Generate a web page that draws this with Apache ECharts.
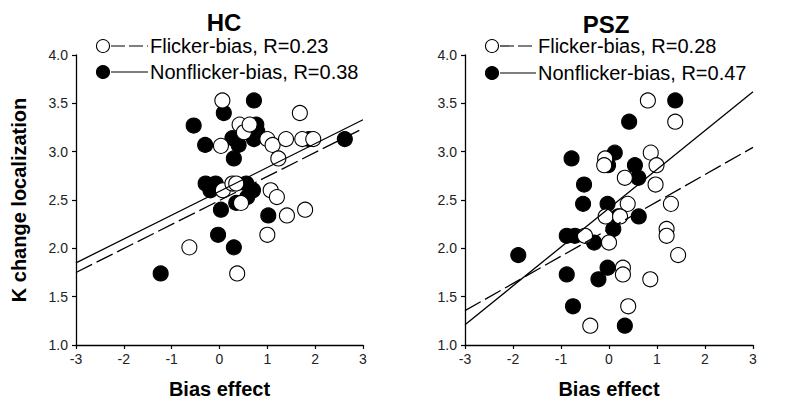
<!DOCTYPE html>
<html><head><meta charset="utf-8">
<script src="https://cdn.jsdelivr.net/npm/echarts@6/dist/echarts.min.js"></script>
<style>html,body{margin:0;padding:0;background:#fff}#c{width:795px;height:409px}</style>
</head><body><div id="c"></div>
<script>
// ---- data ----
var panelTitles = ['HC', 'PSZ'];
var xTicks = [-3, -2, -1, 0, 1, 2, 3];
var yTicks = [1.0, 1.5, 2.0, 2.5, 3.0, 3.5, 4.0];

var hcFlicker = [
  [0.06,3.53],[1.68,3.40],[0.42,3.28],[0.51,3.20],[0.63,3.28],[0.03,3.06],[1.00,3.13],[1.11,3.07],
  [1.39,3.13],[1.23,2.93],[1.73,3.13],[1.96,3.13],[0.07,2.60],[0.27,2.67],[0.35,2.67],[0.45,2.47],
  [1.07,2.60],[1.20,2.53],[1.79,2.40],[1.41,2.34],[1.00,2.14],[-0.63,2.01],[0.37,1.74]
];
var hcNonflicker = [
  [0.72,3.53],[0.09,3.40],[-0.54,3.27],[0.77,3.28],[0.79,3.21],[0.72,3.13],[0.27,3.14],[0.40,3.07],
  [-0.30,3.07],[0.30,2.93],[1.87,3.13],[2.62,3.13],[-0.29,2.67],[-0.08,2.67],[-0.19,2.60],[0.56,2.67],
  [0.70,2.60],[0.58,2.53],[0.35,2.47],[0.03,2.40],[1.02,2.34],[-0.03,2.14],[0.30,2.01],[-1.23,1.74]
];
var pszFlicker = [
  [0.81,3.53],[1.38,3.31],[0.87,2.99],[-0.08,2.93],[-0.10,2.86],[0.99,2.86],[0.33,2.73],[0.97,2.66],
  [0.39,2.46],[1.29,2.46],[-0.07,2.33],[0.23,2.33],[-0.50,2.13],[0.00,2.06],[1.20,2.20],[1.20,2.13],
  [1.44,1.93],[0.29,1.80],[0.29,1.73],[0.86,1.68],[0.40,1.40],[-0.39,1.20]
];
var pszNonflicker = [
  [1.38,3.53],[0.42,3.31],[0.12,2.99],[-0.78,2.93],[-0.02,2.86],[0.54,2.86],[0.61,2.73],[-0.52,2.66],
  [-0.54,2.46],[-0.03,2.46],[0.19,2.33],[0.62,2.33],[0.09,2.20],[-0.88,2.13],[-0.71,2.13],[-0.31,2.06],
  [-1.89,1.93],[-0.88,1.73],[-0.03,1.80],[-0.22,1.68],[-0.75,1.40],[0.33,1.20]
];
// regression line end points (x, y)
var hcFlickerFit = [[-3,1.75],[3,3.24]];
var hcNonflickerFit = [[-3,1.85],[3,3.33]];
var pszFlickerFit = [[-3,1.355],[3,3.045]];
var pszNonflickerFit = [[-3,1.21],[3,3.62]];
var legendLabels = [['Flicker-bias, R=0.23','Nonflicker-bias, R=0.38'],['Flicker-bias, R=0.28','Nonflicker-bias, R=0.47']];

// ---- chart ----
var FONT = '"Liberation Sans", Arial, sans-serif';
var chart = echarts.init(document.getElementById('c'), null, {renderer:'svg'});

function xAxis(i){
  return {gridIndex:i, type:'value', min:xTicks[0], max:xTicks[xTicks.length-1], interval:1,
    axisLine:{onZero:false,lineStyle:{color:'#000',width:1.3}}, axisTick:{inside:false,length:4,lineStyle:{color:'#000',width:1.2}},
    splitLine:{show:false}, axisLabel:{color:'#222',fontSize:14,fontFamily:FONT,margin:7},
    name:'Bias effect', nameLocation:'middle', nameGap:34,
    nameTextStyle:{fontSize:20,fontWeight:'bold',color:'#000',fontFamily:FONT}};
}
function yAxis(i){
  var a = {gridIndex:i, type:'value', min:yTicks[0], max:yTicks[yTicks.length-1], interval:0.5,
    axisLine:{show:true,onZero:false,lineStyle:{color:'#000',width:1.3}}, axisTick:{show:true,inside:false,length:4,lineStyle:{color:'#000',width:1.2}},
    splitLine:{show:false}, axisLabel:{color:'#222',fontSize:14,fontFamily:FONT,margin:8,formatter:function(v){return v.toFixed(1);}}};
  if(i===0){
    a.name='K change localization'; a.nameLocation='middle'; a.nameGap=47;
    a.nameTextStyle={fontSize:20,fontWeight:'bold',color:'#000',fontFamily:FONT};
  }
  return a;
}
function pts(data,i,filled){
  return {type:'scatter', xAxisIndex:i, yAxisIndex:i, data:data, symbol:'circle', symbolSize:15,
    itemStyle:{color:filled?'#000':'#fff', borderColor:'#000', borderWidth:1.1, opacity:1}, z:2, silent:true};
}
function fit(data,i,dashed){
  return {type:'line', xAxisIndex:i, yAxisIndex:i, data:data, symbol:'none',
    lineStyle:{color:'#000',width:1.3,type:dashed?[18,5]:'solid'}, z:3, silent:true};
}
function legendGraphics(cx, tx, y1, y2, labels){
  return [
    {type:'circle', shape:{cx:cx, cy:y1, r:6.5}, style:{fill:'#fff', stroke:'#000', lineWidth:1.1}},
    {type:'line', shape:{x1:cx+8, y1:y1, x2:tx-2, y2:y1}, style:{stroke:'#000', lineWidth:1.2, lineDash:[14,4]}},
    {type:'text', x:tx, y:y1, style:{text:labels[0], font:'20px '+FONT, fill:'#000', verticalAlign:'middle'}},
    {type:'circle', shape:{cx:cx, cy:y2, r:6.5}, style:{fill:'#000', stroke:'#000', lineWidth:1.1}},
    {type:'line', shape:{x1:cx+8, y1:y2, x2:tx-2, y2:y2}, style:{stroke:'#000', lineWidth:1.2}},
    {type:'text', x:tx, y:y2, style:{text:labels[1], font:'20px '+FONT, fill:'#000', verticalAlign:'middle'}}
  ];
}

chart.setOption({
  animation:false,
  backgroundColor:'#fff',
  title:[
    {text:panelTitles[0], left:219, top:5, textAlign:'center', textStyle:{fontSize:24,fontWeight:'bold',color:'#000',fontFamily:FONT}},
    {text:panelTitles[1], left:601, top:7, textAlign:'center', textStyle:{fontSize:24,fontWeight:'bold',color:'#000',fontFamily:FONT}}
  ],
  grid:[
    {left:76, right:432, top:55, bottom:64, containLabel:false},
    {left:465, right:42, top:55, bottom:64, containLabel:false}
  ],
  xAxis:[xAxis(0), xAxis(1)],
  yAxis:[yAxis(0), yAxis(1)],
  series:[
    pts(hcNonflicker,0,true), pts(hcFlicker,0,false), fit(hcFlickerFit,0,true), fit(hcNonflickerFit,0,false),
    pts(pszNonflicker,1,true), pts(pszFlicker,1,false), fit(pszFlickerFit,1,true), fit(pszNonflickerFit,1,false)
  ],
  graphic: legendGraphics(103, 150, 46, 72, legendLabels[0]).concat(legendGraphics(492, 538, 46, 73, legendLabels[1]))
});
</script></body></html>
